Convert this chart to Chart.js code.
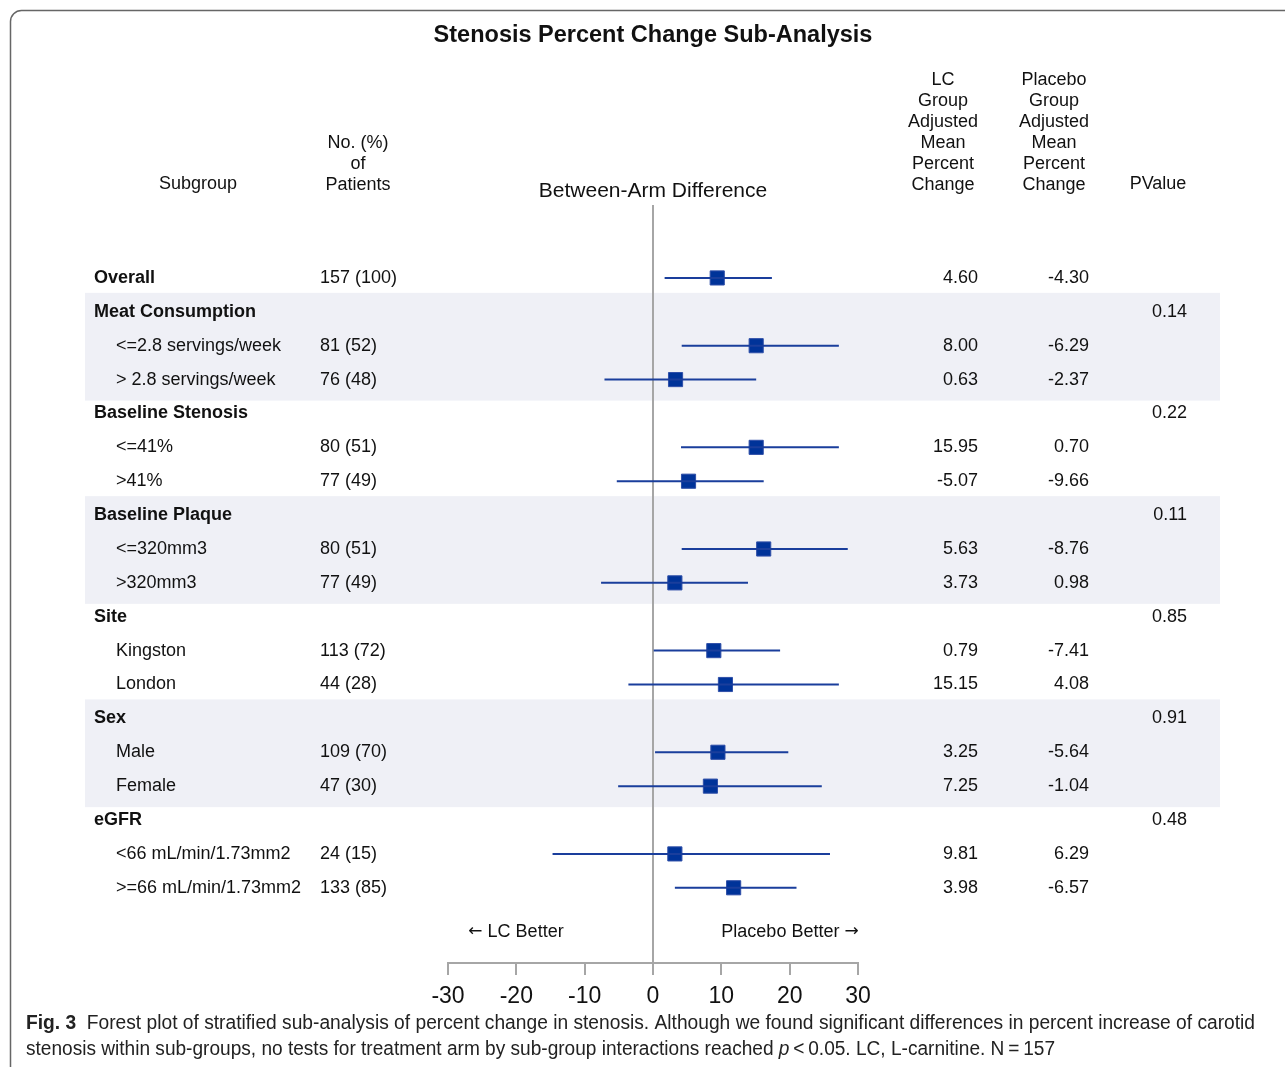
<!DOCTYPE html>
<html>
<head>
<meta charset="utf-8">
<script src="https://cdn.jsdelivr.net/npm/chart.js@4"></script>
<style>
  html, body { margin: 0; padding: 0; background: #fff; }
  canvas { display: block; }
</style>
</head>
<body>
<canvas id="forest" width="1285" height="1067"></canvas>
<script>
// rows of the forest plot, top to bottom
var rowLabels = ['Overall', 'Meat Consumption', '<=2.8 servings/week', '> 2.8 servings/week',
  'Baseline Stenosis', '<=41%', '>41%', 'Baseline Plaque', '<=320mm3', '>320mm3',
  'Site', 'Kingston', 'London', 'Sex', 'Male', 'Female',
  'eGFR', '<66 mL/min/1.73mm2', '>=66 mL/min/1.73mm2'];
var boldRows = [true, true, false, false, true, false, false, true, false, false,
  true, false, false, true, false, false, true, false, false];
var patients = ['157 (100)', '', '81 (52)', '76 (48)', '', '80 (51)', '77 (49)', '', '80 (51)', '77 (49)',
  '', '113 (72)', '44 (28)', '', '109 (70)', '47 (30)', '', '24 (15)', '133 (85)'];
var lcChange = ['4.60', '', '8.00', '0.63', '', '15.95', '-5.07', '', '5.63', '3.73',
  '', '0.79', '15.15', '', '3.25', '7.25', '', '9.81', '3.98'];
var placeboChange = ['-4.30', '', '-6.29', '-2.37', '', '0.70', '-9.66', '', '-8.76', '0.98',
  '', '-7.41', '4.08', '', '-5.64', '-1.04', '', '6.29', '-6.57'];
var pValues = ['', '0.14', '', '', '0.22', '', '', '0.11', '', '', '0.85', '', '', '0.91', '', '', '0.48', '', ''];

// between-arm difference and its interval
var estimate = [9.4, null, 15.1, 3.3, null, 15.1, 5.2, null, 16.2, 3.2, null, 8.9, 10.6, null, 9.5, 8.4, null, 3.2, 11.8];
var lower = [1.7, null, 4.2, -7.1, null, 4.1, -5.3, null, 4.2, -7.6, null, 0.1, -3.6, null, 0.3, -5.1, null, -14.7, 3.2];
var upper = [17.4, null, 27.2, 15.1, null, 27.2, 16.2, null, 28.5, 13.9, null, 18.6, 27.2, null, 19.8, 24.7, null, 25.9, 21.0];

var xTicks = [-30, -20, -10, 0, 10, 20, 30];
var shadedGroups = [[1, 3], [7, 9], [13, 15]];

var FONT = "'Liberation Sans', Arial, sans-serif";
var CAPFONT = "'Liberation Sans Narrow', 'Liberation Sans', Arial, sans-serif";
var ARROWFONT = "'DejaVu Sans', sans-serif";

var ciPoints = [];
var estPoints = [];
for (var i = 0; i < rowLabels.length; i++) {
  if (estimate[i] === null) continue;
  ciPoints.push({ x: lower[i], y: i }, { x: upper[i], y: i }, { x: null, y: null });
  estPoints.push({ x: estimate[i], y: i });
}

function txt(ctx, s, x, y, font, align) {
  ctx.font = font;
  ctx.textAlign = align || 'left';
  ctx.textBaseline = 'middle';
  ctx.fillStyle = '#111';
  ctx.fillText(s, x, y);
}

// text runs laid side by side, centred on cx
function runsCentered(ctx, runs, cx, y) {
  var total = 0;
  runs.forEach(function (r) { ctx.font = r.font; r.w = ctx.measureText(r.t).width; total += r.w; });
  var x = cx - total / 2;
  runs.forEach(function (r) { txt(ctx, r.t, x, y, r.font, 'left'); x += r.w; });
}

// draws text runs squeezed into a given width (the caption font is condensed)
function drawRuns(ctx, runs, x, y, targetW) {
  var total = 0;
  runs.forEach(function (r) { ctx.font = r.font; r.w = ctx.measureText(r.t).width; total += r.w; });
  ctx.save();
  ctx.translate(x, y);
  ctx.scale(targetW / total, 1);
  ctx.textAlign = 'left';
  ctx.textBaseline = 'middle';
  ctx.fillStyle = '#222';
  var cx = 0;
  runs.forEach(function (r) { ctx.font = r.font; ctx.fillText(r.t, cx, 0); cx += r.w; });
  ctx.restore();
}

var decor = {
  id: 'decor',
  beforeDatasetsDraw: function (chart) {
    var ctx = chart.ctx, ys = chart.scales.y, xs = chart.scales.x;
    ctx.save();
    ctx.fillStyle = '#eff0f6';
    shadedGroups.forEach(function (g) {
      var t = ys.getPixelForValue(g[0] - 0.56), b = ys.getPixelForValue(g[1] + 0.62);
      ctx.fillRect(85, t, 1135, b - t);
    });
    var x0 = xs.getPixelForValue(0);
    ctx.strokeStyle = '#a6a6a6';
    ctx.lineWidth = 2;
    ctx.beginPath();
    ctx.moveTo(x0, 205);
    ctx.lineTo(x0, chart.chartArea.bottom);
    ctx.stroke();
    ctx.restore();
  },
  afterDraw: function (chart) {
    var ctx = chart.ctx, ys = chart.scales.y, xs = chart.scales.x;
    ctx.save();
    // frame
    ctx.strokeStyle = '#666';
    ctx.lineWidth = 1.5;
    ctx.beginPath();
    ctx.moveTo(10.5, 1070);
    ctx.lineTo(10.5, 22);
    ctx.arcTo(10.5, 10.5, 22, 10.5, 11);
    ctx.lineTo(1290, 10.5);
    ctx.stroke();

    txt(ctx, 'Stenosis Percent Change Sub-Analysis', 653, 36, 'bold 23.5px ' + FONT, 'center');

    var hf = '18px ' + FONT;
    txt(ctx, 'Subgroup', 198, 184, hf, 'center');
    ['No. (%)', 'of', 'Patients'].forEach(function (s, k) { txt(ctx, s, 358, 143 + k * 21, hf, 'center'); });
    ['LC', 'Group', 'Adjusted', 'Mean', 'Percent', 'Change'].forEach(function (s, k) { txt(ctx, s, 943, 80 + k * 21, hf, 'center'); });
    ['Placebo', 'Group', 'Adjusted', 'Mean', 'Percent', 'Change'].forEach(function (s, k) { txt(ctx, s, 1054, 80 + k * 21, hf, 'center'); });
    txt(ctx, 'PValue', 1158, 184, hf, 'center');
    txt(ctx, 'Between-Arm Difference', xs.getPixelForValue(0), 191, '21px ' + FONT, 'center');

    for (var i = 0; i < rowLabels.length; i++) {
      var y = ys.getPixelForValue(i);
      if (boldRows[i]) txt(ctx, rowLabels[i], 94, y, 'bold 18px ' + FONT, 'left');
      else txt(ctx, rowLabels[i], 116, y, hf, 'left');
      if (patients[i]) txt(ctx, patients[i], 320, y, hf, 'left');
      if (lcChange[i]) txt(ctx, lcChange[i], 978, y, hf, 'right');
      if (placeboChange[i]) txt(ctx, placeboChange[i], 1089, y, hf, 'right');
      if (pValues[i]) txt(ctx, pValues[i], 1187, y, hf, 'right');
    }

    runsCentered(ctx, [{ t: '\u2190', font: '17px ' + ARROWFONT }, { t: ' LC Better', font: hf }], 516, 932);
    runsCentered(ctx, [{ t: 'Placebo Better ', font: hf }, { t: '\u2192', font: '17px ' + ARROWFONT }], 790, 932);

    drawRuns(ctx, [
      { t: 'Fig. 3', font: 'bold 20px ' + CAPFONT },
      { t: '  Forest plot of stratified sub-analysis of percent change in stenosis. Although we found significant differences in percent increase of carotid', font: '20px ' + CAPFONT }
    ], 26, 1023, 1229);
    drawRuns(ctx, [
      { t: 'stenosis within sub-groups, no tests for treatment arm by sub-group interactions reached ', font: '20px ' + CAPFONT },
      { t: 'p', font: 'italic 20px ' + CAPFONT },
      { t: '\u2009<\u20090.05. LC, L-carnitine. N\u2009=\u2009157', font: '20px ' + CAPFONT }
    ], 26, 1049, 1029);
    ctx.restore();
  }
};

new Chart(document.getElementById('forest'), {
  type: 'scatter',
  data: {
    datasets: [
      {
        data: ciPoints,
        showLine: true,
        spanGaps: false,
        borderColor: '#1a3e9c',
        borderWidth: 2,
        pointRadius: 0
      },
      {
        data: estPoints,
        pointStyle: 'rect',
        pointRadius: 10,
        backgroundColor: '#003399',
        borderColor: '#2f4fa8',
        borderWidth: 1
      }
    ]
  },
  options: {
    responsive: false,
    animation: false,
    events: [],
    layout: { padding: { left: 448, right: 427, top: 261, bottom: 54 } },
    plugins: { legend: { display: false }, tooltip: { enabled: false } },
    scales: {
      x: {
        type: 'linear',
        min: -30,
        max: 30,
        afterBuildTicks: function (s) { s.ticks = xTicks.map(function (v) { return { value: v }; }); },
        afterFit: function (s) { s.height = 50; },
        ticks: { color: '#111', padding: 8, font: { size: 23, family: FONT } },
        grid: { drawOnChartArea: false, drawTicks: true, tickLength: 12, color: '#a6a6a6', lineWidth: 2 },
        border: { display: true, color: '#a6a6a6', width: 2 }
      },
      y: {
        type: 'linear',
        min: -0.5,
        max: 20.22,
        reverse: true,
        display: false
      }
    }
  },
  plugins: [decor]
});
</script>
</body>
</html>
